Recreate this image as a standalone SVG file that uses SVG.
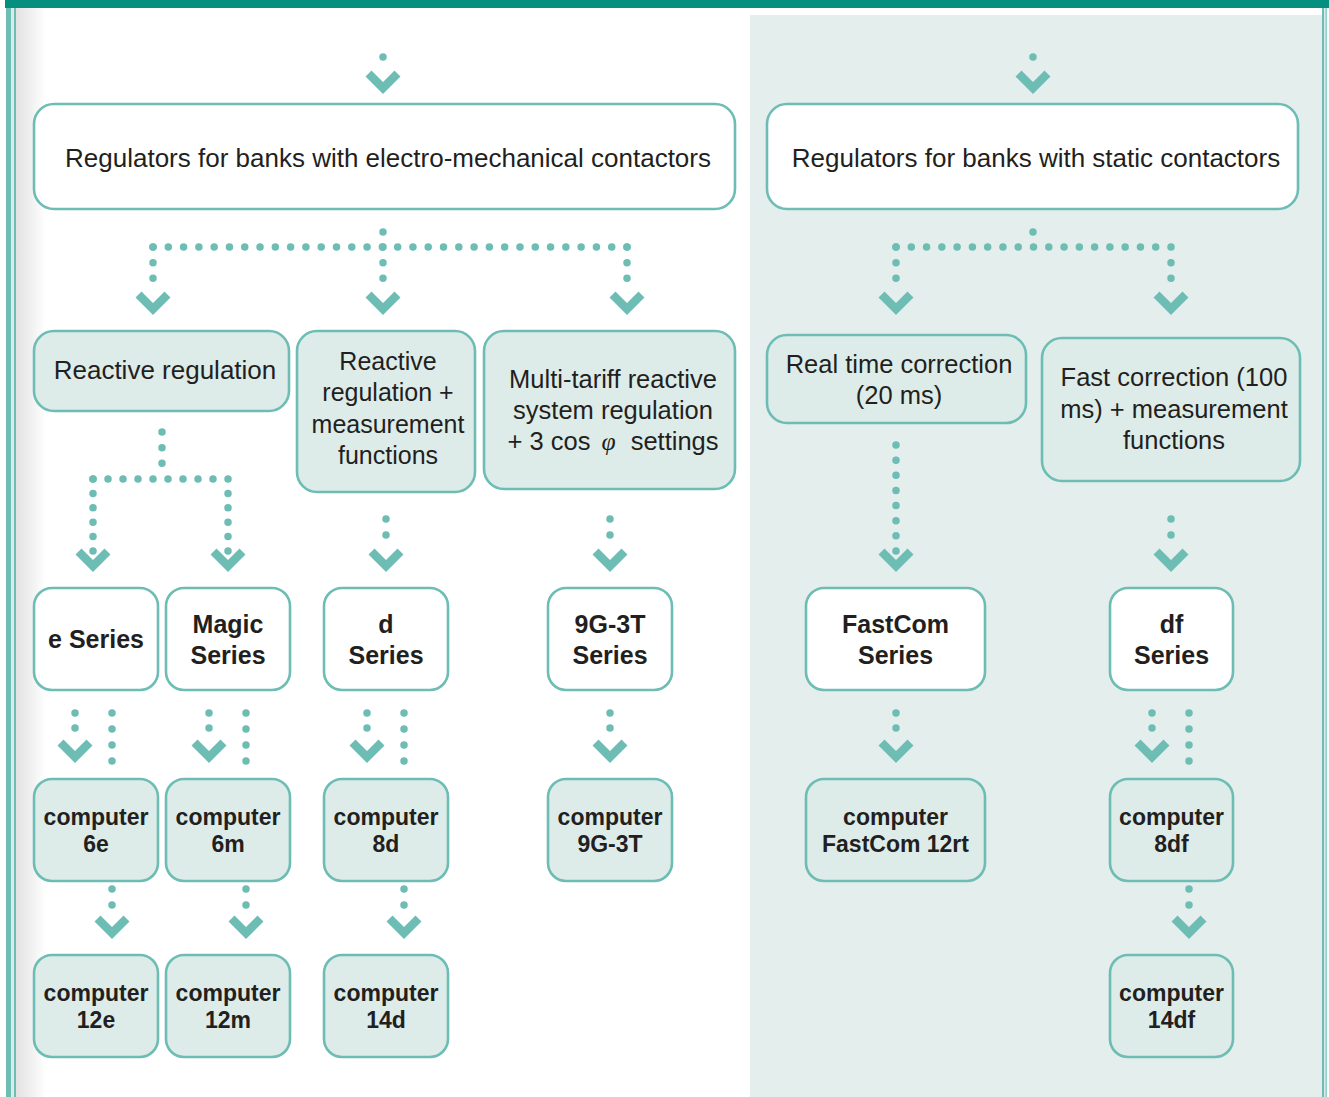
<svg xmlns="http://www.w3.org/2000/svg" width="1329" height="1097" viewBox="0 0 1329 1097">
<style>
.box{stroke:#6dbdb5;stroke-width:2.6}
.w{fill:#ffffff}
.l{fill:#ddece9}
.t{font-family:"Liberation Sans",Arial,sans-serif;font-size:25px;fill:#231f20;text-anchor:middle}
.b{font-family:"Liberation Sans",Arial,sans-serif;font-weight:bold;font-size:25px;fill:#231f20;text-anchor:middle}
.c{font-size:23px}
.dots{fill:none;stroke:#6dbdb5;stroke-width:7.5;stroke-linecap:round;stroke-dasharray:0 1}
.chev{fill:#6dbdb5}
</style>
<defs>
<linearGradient id="edge" x1="0" y1="0" x2="1" y2="0">
<stop offset="0" stop-color="#e2e2e2"/>
<stop offset="1" stop-color="#ffffff"/>
</linearGradient>
<path id="chev" d="M0,0 L-17.5,-17.5 L-11.5,-23.5 L0,-12 L11.5,-23.5 L17.5,-17.5 Z"/>
</defs>
<rect x="0" y="0" width="1329" height="1097" fill="#ffffff"/>
<rect x="16" y="8" width="30" height="1089" fill="url(#edge)"/>
<rect x="750" y="15" width="572" height="1082" fill="#e4eeec"/>
<rect x="5" y="0" width="1324" height="8" fill="#048f7e"/>
<rect x="6" y="8" width="5" height="1089" fill="#6dbdb5"/>
<rect x="11" y="8" width="3" height="1089" fill="#d9ecea"/>
<rect x="14" y="8" width="2" height="1089" fill="#6dbdb5"/>
<rect x="1322" y="8" width="2" height="1089" fill="#6dbdb5"/>
<rect x="1324" y="8" width="1.5" height="1089" fill="#d9ecea"/>
<rect x="1325.5" y="8" width="1.2" height="1089" fill="#6dbdb5"/>

<g id="connectors">
<path class="dots" pathLength="1" d="M383,57 V72"/>
<path class="dots" pathLength="1" d="M1033,57 V72"/>
<path class="dots" pathLength="1" d="M383,232 V247"/>
<path class="dots" pathLength="31" d="M153,247 H627"/>
<path class="dots" pathLength="3" d="M153,247 V294"/>
<path class="dots" pathLength="3" d="M383,247 V294"/>
<path class="dots" pathLength="3" d="M627,247 V294"/>
<path class="dots" pathLength="1" d="M1033,232 V247"/>
<path class="dots" pathLength="18" d="M896,247 H1171"/>
<path class="dots" pathLength="3" d="M896,247 V294"/>
<path class="dots" pathLength="3" d="M1171,247 V294"/>
<path class="dots" pathLength="3" d="M162,432 V479"/>
<path class="dots" pathLength="9" d="M93,479 H228"/>
<path class="dots" pathLength="5" d="M93,479 V551"/>
<path class="dots" pathLength="5" d="M228,479 V551"/>
<path class="dots" pathLength="2" d="M386,519 V551"/>
<path class="dots" pathLength="2" d="M610,519 V551"/>
<path class="dots" pathLength="7" d="M896,445 V551"/>
<path class="dots" pathLength="2" d="M1171,519 V551"/>
<path class="dots" pathLength="2" d="M75,713 V743"/>
<path class="dots" pathLength="4" d="M112,713 V777"/>
<path class="dots" pathLength="2" d="M209,713 V743"/>
<path class="dots" pathLength="4" d="M246,713 V777"/>
<path class="dots" pathLength="2" d="M367,713 V743"/>
<path class="dots" pathLength="4" d="M404,713 V777"/>
<path class="dots" pathLength="2" d="M610,713 V743"/>
<path class="dots" pathLength="2" d="M896,713 V743"/>
<path class="dots" pathLength="2" d="M1152,713 V743"/>
<path class="dots" pathLength="4" d="M1189,713 V777"/>
<path class="dots" pathLength="2" d="M112,889 V921"/>
<path class="dots" pathLength="2" d="M246,889 V921"/>
<path class="dots" pathLength="2" d="M404,889 V921"/>
<path class="dots" pathLength="2" d="M1189,889 V921"/>
<use href="#chev" class="chev" x="383" y="94"/>
<use href="#chev" class="chev" x="1033" y="94"/>
<use href="#chev" class="chev" x="153" y="315"/>
<use href="#chev" class="chev" x="383" y="315"/>
<use href="#chev" class="chev" x="627" y="315"/>
<use href="#chev" class="chev" x="896" y="315"/>
<use href="#chev" class="chev" x="1171" y="315"/>
<use href="#chev" class="chev" x="93" y="572"/>
<use href="#chev" class="chev" x="228" y="572"/>
<use href="#chev" class="chev" x="386" y="572"/>
<use href="#chev" class="chev" x="610" y="572"/>
<use href="#chev" class="chev" x="896" y="572"/>
<use href="#chev" class="chev" x="1171" y="572"/>
<use href="#chev" class="chev" x="75" y="763"/>
<use href="#chev" class="chev" x="209" y="763"/>
<use href="#chev" class="chev" x="367" y="763"/>
<use href="#chev" class="chev" x="610" y="763"/>
<use href="#chev" class="chev" x="896" y="763"/>
<use href="#chev" class="chev" x="1152" y="763"/>
<use href="#chev" class="chev" x="112" y="939"/>
<use href="#chev" class="chev" x="246" y="939"/>
<use href="#chev" class="chev" x="404" y="939"/>
<use href="#chev" class="chev" x="1189" y="939"/>
</g>

<g id="n-em">
<rect class="box w" x="34" y="104" width="701" height="105" rx="20"/>
<text class="t" x="388" y="167" style="font-size:26px">Regulators for banks with electro-mechanical contactors</text>
</g>
<g id="n-static">
<rect class="box w" x="767" y="104" width="531" height="105" rx="20"/>
<text class="t" x="1036" y="167" style="font-size:26px">Regulators for banks with static contactors</text>
</g>
<g id="n-reactive">
<rect class="box l" x="34" y="331" width="255" height="80" rx="20"/>
<text class="t" x="165" y="379" style="font-size:26px">Reactive regulation</text>
</g>
<g id="n-reactive-meas">
<rect class="box l" x="297" y="331" width="178" height="161" rx="20"/>
<text class="t" x="388" y="370">Reactive</text>
<text class="t" x="388" y="401">regulation +</text>
<text class="t" x="388" y="433">measurement</text>
<text class="t" x="388" y="464">functions</text>
</g>
<g id="n-multi">
<rect class="box l" x="484" y="331" width="251" height="158" rx="20"/>
<text class="t" x="613" y="388" style="font-size:25.5px">Multi-tariff reactive</text>
<text class="t" x="613" y="419" style="font-size:25.5px">system regulation</text>
<text class="t" x="613" y="450" style="font-size:25.5px">+ 3 cos <tspan dx="4" style="font-family:'Liberation Serif',serif;font-style:italic">φ</tspan><tspan dx="8"> settings</tspan></text>
</g>
<g id="n-realtime">
<rect class="box l" x="767" y="335" width="259" height="88" rx="20"/>
<text class="t" x="899" y="373" style="font-size:25.5px">Real time correction</text>
<text class="t" x="899" y="404" style="font-size:25.5px">(20 ms)</text>
</g>
<g id="n-fast">
<rect class="box l" x="1042" y="338" width="258" height="143" rx="20"/>
<text class="t" x="1174" y="386" style="font-size:25.5px">Fast correction (100</text>
<text class="t" x="1174" y="418" style="font-size:25.5px">ms) + measurement</text>
<text class="t" x="1174" y="449" style="font-size:25.5px">functions</text>
</g>

<g id="n-e">
<rect class="box w" x="34" y="588" width="124" height="102" rx="18"/>
<text class="b" x="96" y="648">e Series</text>
</g>
<g id="n-magic">
<rect class="box w" x="166" y="588" width="124" height="102" rx="18"/>
<text class="b" x="228" y="633">Magic</text>
<text class="b" x="228" y="664">Series</text>
</g>
<g id="n-d">
<rect class="box w" x="324" y="588" width="124" height="102" rx="18"/>
<text class="b" x="386" y="633">d</text>
<text class="b" x="386" y="664">Series</text>
</g>
<g id="n-9g">
<rect class="box w" x="548" y="588" width="124" height="102" rx="18"/>
<text class="b" x="610" y="633">9G-3T</text>
<text class="b" x="610" y="664">Series</text>
</g>
<g id="n-fastcom">
<rect class="box w" x="806" y="588" width="179" height="102" rx="18"/>
<text class="b" x="895.5" y="633">FastCom</text>
<text class="b" x="895.5" y="664">Series</text>
</g>
<g id="n-df">
<rect class="box w" x="1110" y="588" width="123" height="102" rx="18"/>
<text class="b" x="1171.5" y="633">df</text>
<text class="b" x="1171.5" y="664">Series</text>
</g>

<g id="n-6e">
<rect class="box l" x="34" y="779" width="124" height="102" rx="18"/>
<text class="b c" x="96" y="825">computer</text>
<text class="b c" x="96" y="852">6e</text>
</g>
<g id="n-6m">
<rect class="box l" x="166" y="779" width="124" height="102" rx="18"/>
<text class="b c" x="228" y="825">computer</text>
<text class="b c" x="228" y="852">6m</text>
</g>
<g id="n-8d">
<rect class="box l" x="324" y="779" width="124" height="102" rx="18"/>
<text class="b c" x="386" y="825">computer</text>
<text class="b c" x="386" y="852">8d</text>
</g>
<g id="n-9g3t">
<rect class="box l" x="548" y="779" width="124" height="102" rx="18"/>
<text class="b c" x="610" y="825">computer</text>
<text class="b c" x="610" y="852">9G-3T</text>
</g>
<g id="n-fc12rt">
<rect class="box l" x="806" y="779" width="179" height="102" rx="18"/>
<text class="b c" x="895.5" y="825">computer</text>
<text class="b c" x="895.5" y="852">FastCom 12rt</text>
</g>
<g id="n-8df">
<rect class="box l" x="1110" y="779" width="123" height="102" rx="18"/>
<text class="b c" x="1171.5" y="825">computer</text>
<text class="b c" x="1171.5" y="852">8df</text>
</g>

<g id="n-12e">
<rect class="box l" x="34" y="955" width="124" height="102" rx="18"/>
<text class="b c" x="96" y="1001">computer</text>
<text class="b c" x="96" y="1028">12e</text>
</g>
<g id="n-12m">
<rect class="box l" x="166" y="955" width="124" height="102" rx="18"/>
<text class="b c" x="228" y="1001">computer</text>
<text class="b c" x="228" y="1028">12m</text>
</g>
<g id="n-14d">
<rect class="box l" x="324" y="955" width="124" height="102" rx="18"/>
<text class="b c" x="386" y="1001">computer</text>
<text class="b c" x="386" y="1028">14d</text>
</g>
<g id="n-14df">
<rect class="box l" x="1110" y="955" width="123" height="102" rx="18"/>
<text class="b c" x="1171.5" y="1001">computer</text>
<text class="b c" x="1171.5" y="1028">14df</text>
</g>
</svg>
